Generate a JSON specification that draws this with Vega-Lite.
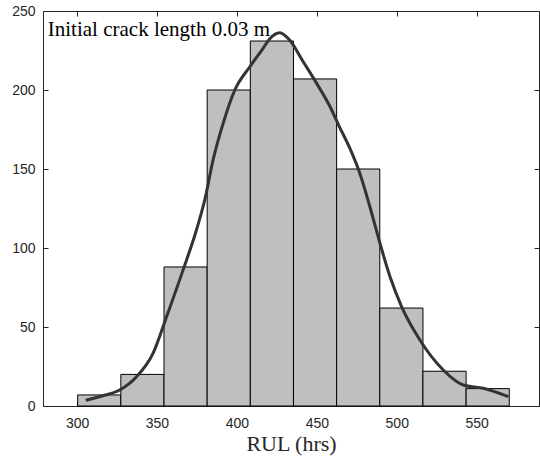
{
  "$schema": "https://vega.github.io/schema/vega-lite/v6.json",
  "width": 496,
  "height": 395,
  "autosize": {"type": "none"},
  "padding": {"left": 43, "top": 11, "right": 1, "bottom": 55},
  "background": "white",
  "config": {
    "view": {"stroke": null},
    "axis": {
      "grid": false,
      "domainColor": "#262626",
      "domainWidth": 1,
      "tickColor": "#262626",
      "tickSize": -5,
      "labelFont": "Liberation Sans",
      "labelFontSize": 14,
      "labelColor": "#262626",
      "titleFont": "Liberation Serif",
      "titleFontSize": 22,
      "titleFontWeight": "normal",
      "titleColor": "#262626"
    }
  },
  "datasets": {
    "bins": [
      {"lo": 300.4, "hi": 327.4, "count": 7},
      {"lo": 327.4, "hi": 354.4, "count": 20},
      {"lo": 354.4, "hi": 381.4, "count": 88},
      {"lo": 381.4, "hi": 408.4, "count": 200},
      {"lo": 408.4, "hi": 435.4, "count": 231},
      {"lo": 435.4, "hi": 462.4, "count": 207},
      {"lo": 462.4, "hi": 489.4, "count": 150},
      {"lo": 489.4, "hi": 516.4, "count": 62},
      {"lo": 516.4, "hi": 543.4, "count": 22},
      {"lo": 543.4, "hi": 570.4, "count": 11}
    ],
    "curve": [
      {"rul": 305.4, "f": 3.6},
      {"rul": 316.0, "f": 6.5},
      {"rul": 326.7, "f": 10.1},
      {"rul": 337.2, "f": 18.5},
      {"rul": 347.6, "f": 33.4},
      {"rul": 356.0, "f": 56.5},
      {"rul": 366.3, "f": 86},
      {"rul": 374.7, "f": 111.4},
      {"rul": 379.9, "f": 130.4},
      {"rul": 385.1, "f": 155.7},
      {"rul": 391.4, "f": 178.9},
      {"rul": 398.7, "f": 200},
      {"rul": 408.1, "f": 214.7},
      {"rul": 416.4, "f": 226.4},
      {"rul": 420.6, "f": 232.5},
      {"rul": 426.9, "f": 236.3},
      {"rul": 433.1, "f": 231.5},
      {"rul": 441.5, "f": 217.9},
      {"rul": 449.9, "f": 204.2},
      {"rul": 458.3, "f": 189.4},
      {"rul": 464.0, "f": 177},
      {"rul": 470.7, "f": 163},
      {"rul": 477.0, "f": 147},
      {"rul": 483.2, "f": 126.1},
      {"rul": 489.5, "f": 103},
      {"rul": 495.8, "f": 81.8},
      {"rul": 503.1, "f": 62.8},
      {"rul": 514.5, "f": 41.8},
      {"rul": 529.1, "f": 22.8},
      {"rul": 541.6, "f": 13.3},
      {"rul": 554.1, "f": 11.2},
      {"rul": 569.8, "f": 5.9}
    ],
    "label": [
      {"x": 281.7, "y": 234.2, "text": "Initial crack length 0.03 m"}
    ]
  },
  "layer": [
    {
      "data": {"name": "bins"},
      "mark": {"type": "rect", "fill": "#bfbfbf", "stroke": "#000000", "strokeWidth": 1},
      "encoding": {
        "x": {
          "field": "lo", "type": "quantitative",
          "scale": {"domain": [278.7, 589], "nice": false, "zero": false},
          "axis": {"orient": "bottom", "values": [300, 350, 400, 450, 500, 550], "title": "RUL (hrs)", "labelPadding": 15, "titlePadding": 3}
        },
        "x2": {"field": "hi"},
        "y": {
          "field": "count", "type": "quantitative",
          "scale": {"domain": [0, 250], "nice": false},
          "axis": {"orient": "left", "values": [0, 50, 100, 150, 200, 250], "title": null, "labelPadding": 13}
        },
        "y2": {"datum": 0}
      }
    },
    {
      "data": {"name": "curve"},
      "mark": {"type": "line", "color": "#333333", "strokeWidth": 3, "interpolate": "monotone"},
      "encoding": {
        "x": {
          "field": "rul", "type": "quantitative",
          "scale": {"domain": [278.7, 589], "nice": false, "zero": false},
          "axis": {"orient": "top", "values": [300, 350, 400, 450, 500, 550], "labels": false, "title": null}
        },
        "y": {
          "field": "f", "type": "quantitative",
          "scale": {"domain": [0, 250], "nice": false},
          "axis": {"orient": "right", "values": [0, 50, 100, 150, 200, 250], "labels": false, "title": null}
        }
      }
    },
    {
      "data": {"name": "label"},
      "mark": {"type": "text", "font": "Liberation Serif", "fontSize": 21, "align": "left", "baseline": "alphabetic", "color": "#000000"},
      "encoding": {
        "x": {"field": "x", "type": "quantitative", "axis": null},
        "y": {"field": "y", "type": "quantitative", "axis": null},
        "text": {"field": "text"}
      }
    }
  ],
  "resolve": {"axis": {"x": "independent", "y": "independent"}}
}
